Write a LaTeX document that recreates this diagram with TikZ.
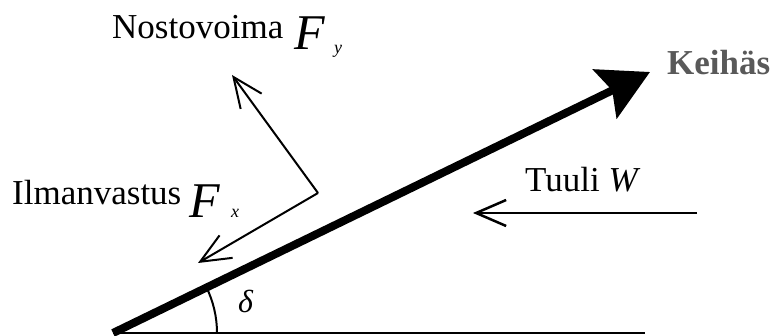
\documentclass[tikz,border=0pt]{standalone}
\usepackage{fontspec}
\setmainfont{Liberation Serif}
\usetikzlibrary{arrows.meta}

\begin{document}
\begin{tikzpicture}[
    x=1pt, y=-1pt,
    force/.style={-{Straight Barb[length=30pt,width=26pt]}, line width=2pt},
    javelin/.style={-{Stealth[length=50pt,width=54pt,inset=8pt]}, line width=8pt},
    ground/.style={line width=2.5pt},
    lbl/.style={anchor=base west, inner sep=0pt, font=\fontsize{35}{40}\selectfont},
    sym/.style={anchor=base west, inner sep=0pt, font=\fontsize{50}{50}\selectfont\itshape},
    sub/.style={anchor=base west, inner sep=0pt, font=\fontsize{18}{18}\selectfont\itshape},
]
\useasboundingbox (0,0) rectangle (771,336);

% Keihäs ja maa
\coordinate (tail)    at (113, 333);
\coordinate (tip)     at (650, 72);
\coordinate (groundend) at (645, 333);
\coordinate (arcstart)  at (217, 333);

% Voimat
\coordinate (force)   at (318, 193);
\coordinate (lifttip) at (232, 75);
\coordinate (dragtip) at (198, 263);
\coordinate (windstart) at (697, 213);
\coordinate (windend)   at (473, 213);

\draw[ground] (tail) -- (groundend);
\draw[javelin] (tail) -- (tip);
\draw[line width=2pt] (arcstart) arc[start angle=0, end angle=-26, radius=104];

\draw[force] (force) -- (lifttip);
\draw[force] (force) -- (dragtip);
\draw[force, line width=2.5pt] (windstart) -- (windend);

% Tekstit
\node[lbl] (liftlbl) at (112, 39)  {Nostovoima};
\node[sym] (liftF)   at (294, 50)  {F};
\node[sub] (lifty)   at (334, 54)  {y};

\node[lbl] (draglbl) at (12, 205)  {Ilmanvastus};
\node[sym] (dragF)   at (189, 218) {F};
\node[sub] (dragx)   at (231, 218) {x};

\node[lbl] (windlbl) at (525, 192) {Tuuli \textit{W}};
\node[lbl, font=\fontsize{35}{40}\selectfont\bfseries, text=black!65] (javlbl) at (667, 75) {Keihäs};
\node[anchor=base west, inner sep=0pt, font=\fontsize{32}{32}\selectfont\itshape] (angle) at (238, 313) {δ};

\end{tikzpicture}
\end{document}
